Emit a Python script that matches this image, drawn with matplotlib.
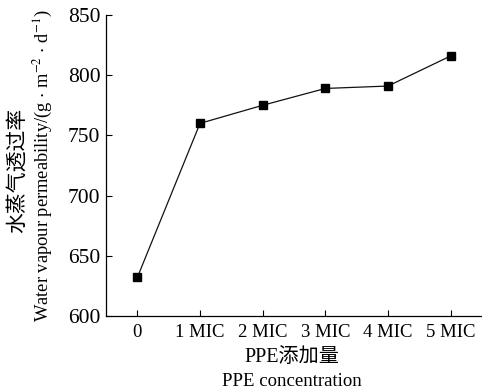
import matplotlib.pyplot as plt

plt.rcParams["font.family"] = ["Liberation Serif", "Noto Sans CJK SC"]
plt.rcParams["mathtext.fontset"] = "stix"

# data
categories = ["0", "1 MIC", "2 MIC", "3 MIC", "4 MIC", "5 MIC"]
wvp = [632, 760, 775, 789, 791, 816]
y_ticks = [600, 650, 700, 750, 800, 850]

fig = plt.figure(figsize=(4.82, 3.91), dpi=100)
ax = fig.add_axes([106 / 482, 1 - 316 / 391, 1 - 106 / 482, 301 / 391])

x = list(range(len(categories)))
ax.plot(x, wvp, color="#111111", linewidth=0.9, marker="s", markersize=6,
        markerfacecolor="black", markeredgecolor="black")

ax.set_xlim(-0.5, 5.5)
ax.set_ylim(600, 850)
ax.set_xticks(x)
ax.set_xticklabels(categories)
ax.set_yticks(y_ticks)
ax.tick_params(direction="in", length=4, width=0.8)
ax.tick_params(axis="x", labelsize=13.5, pad=6)
ax.tick_params(axis="y", labelsize=15.5, pad=4)
ax.spines["top"].set_visible(False)
ax.spines["right"].set_visible(False)
for s in ("left", "bottom"):
    ax.spines[s].set_linewidth(0.9)

# two-line axis titles (Chinese + English)
fig.text(292 / 482, 1 - 357 / 391, "PPE添加量", ha="center", va="center", fontsize=14.5)
fig.text(292 / 482, 1 - 381 / 391, "PPE concentration", ha="center", va="center", fontsize=13.5)
fig.text(18 / 482, 1 - 170 / 391, "水蒸气透过率", rotation=90, ha="center", va="center",
         fontsize=15)
fig.text(43 / 482, 1 - 166 / 391,
         r"Water vapour permeability/(g $\cdot$ m$^{-2}$ $\cdot$ d$^{-1}$)",
         rotation=90, ha="center", va="center", fontsize=13.3)

fig.savefig("out.png", dpi=100)
